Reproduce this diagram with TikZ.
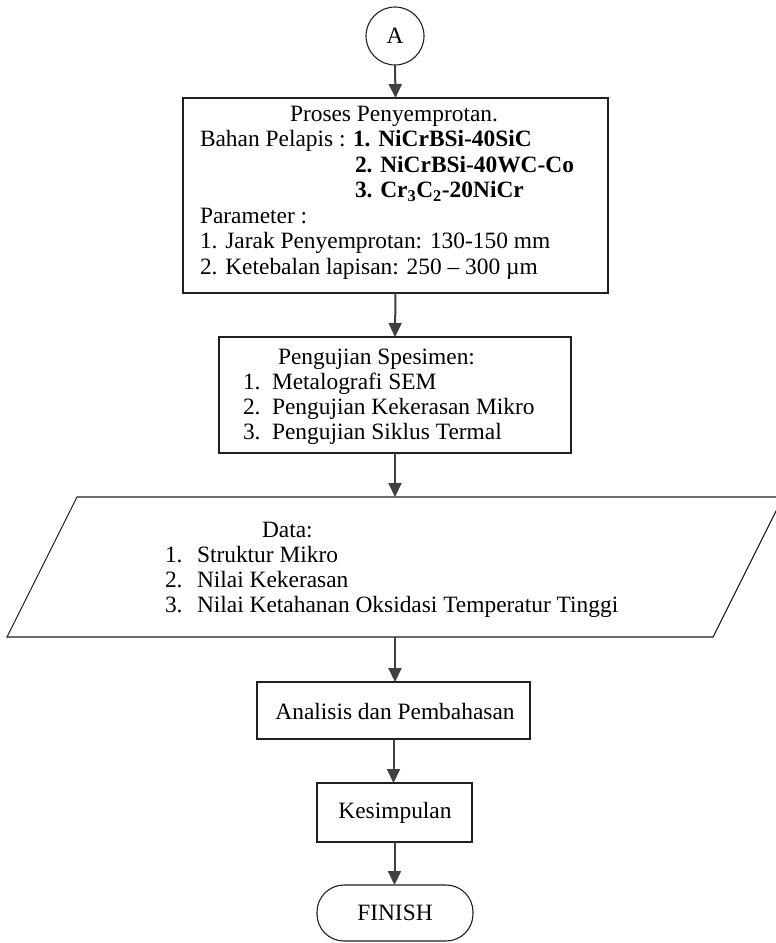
\documentclass[tikz,border=0pt]{standalone}
\usepackage{fontspec}
\setmainfont{Liberation Serif}
\usetikzlibrary{arrows.meta}
\definecolor{arrowgray}{HTML}{404040}
\definecolor{linegray}{HTML}{202020}
\tikzset{
  box/.style={draw=linegray, line width=1.1pt, rectangle, inner sep=0pt, outer sep=0pt},
  arr/.style={draw=arrowgray, line width=2pt, -{Triangle[length=14pt,width=13pt]}},
  txt/.style={inner sep=0pt, outer sep=0pt, anchor=base west},
  ctxt/.style={inner sep=0pt, outer sep=0pt}
}
\begin{document}
\begin{tikzpicture}[x=1pt,y=-1pt,font=\fontsize{23.4}{25}\selectfont]
\useasboundingbox (0,0) rectangle (776,943);
\fill[white] (0,0) rectangle (776,943);
% start connector
\node[draw=linegray, line width=1.1pt, circle, minimum size=58pt, inner sep=0pt, outer sep=0pt] (A) at (395,36) {A};
% box 1
\node[box, minimum width=425pt, minimum height=195pt] (b1) at (395.5,195.5) {};
\node[txt] (b1l1) at (290,121) {Proses Penyemprotan.};
\node[txt] (b1l2) at (200,146.5) {Bahan Pelapis : };
\node[txt] (b1l2b) at (353,146.5) {\textbf{1. NiCrBSi-40SiC}};
\node[txt] (b1l3) at (355,172) {\textbf{2. NiCrBSi-40WC-Co}};
\node[txt] (b1l4) at (355,197.5) {\textbf{3. Cr\textsubscript{3}C\textsubscript{2}-20NiCr}};
\node[txt] (b1l5) at (200,223) {Parameter :};
\node[txt] (b1l6) at (200,248.5) {1. Jarak Penyemprotan: 130-150 mm};
\node[txt] (b1l7) at (200,274) {2. Ketebalan lapisan: 250 – 300 µm};
% box 2
\node[box, minimum width=352pt, minimum height=116pt] (b2) at (395,395) {};
\node[txt] (b2l1) at (278,364) {Pengujian Spesimen:};
\node[txt] (b2n1) at (243,389) {1.};
\node[txt] (b2l2) at (272,389) {Metalografi SEM};
\node[txt] (b2n2) at (243,414) {2.};
\node[txt] (b2l3) at (272,414) {Pengujian Kekerasan Mikro};
\node[txt] (b2n3) at (243,439) {3.};
\node[txt] (b2l4) at (272,439) {Pengujian Siklus Termal};
% data parallelogram
\draw[draw=linegray, line width=1.1pt] (77,497) -- (783,497) -- (713,637) -- (7,637) -- cycle;
\coordinate (dT) at (395,497);
\coordinate (dB) at (395,637);
\node[txt] (dl1) at (262,537) {Data:};
\node[txt] (dn1) at (165,562) {1.};
\node[txt] (dl2) at (197,562) {Struktur Mikro};
\node[txt] (dn2) at (165,587) {2.};
\node[txt] (dl3) at (197,587) {Nilai Kekerasan};
\node[txt] (dn3) at (165,612) {3.};
\node[txt] (dl4) at (197,612) {Nilai Ketahanan Oksidasi Temperatur Tinggi};
% analysis
\node[box, minimum width=273pt, minimum height=57pt] (ana) at (393.5,710.5) {};
\node[ctxt] (anat) at (395,711) {Analisis dan Pembahasan};
% conclusion
\node[box, minimum width=155pt, minimum height=59pt] (kes) at (394.5,812.5) {};
\node[ctxt] (kest) at (395,813) {Kesimpulan};
% finish
\node[draw=linegray, line width=1.1pt, rounded corners=27pt, minimum width=156pt, minimum height=56pt, inner sep=0pt, outer sep=0pt] (fin) at (395,913) {FINISH};
% connectors
\draw[arr] (A.south) -- (b1.north);
\draw[arr] (b1.south) -- (b2.north);
\draw[arr] (b2.south) -- (dT);
\draw[arr] (dB) -- (dB |- ana.north);
\draw[arr] (ana.south) -- (ana.south |- kes.north);
\draw[arr] (kes.south) -- (kes.south |- fin.north);
\end{tikzpicture}
\end{document}
